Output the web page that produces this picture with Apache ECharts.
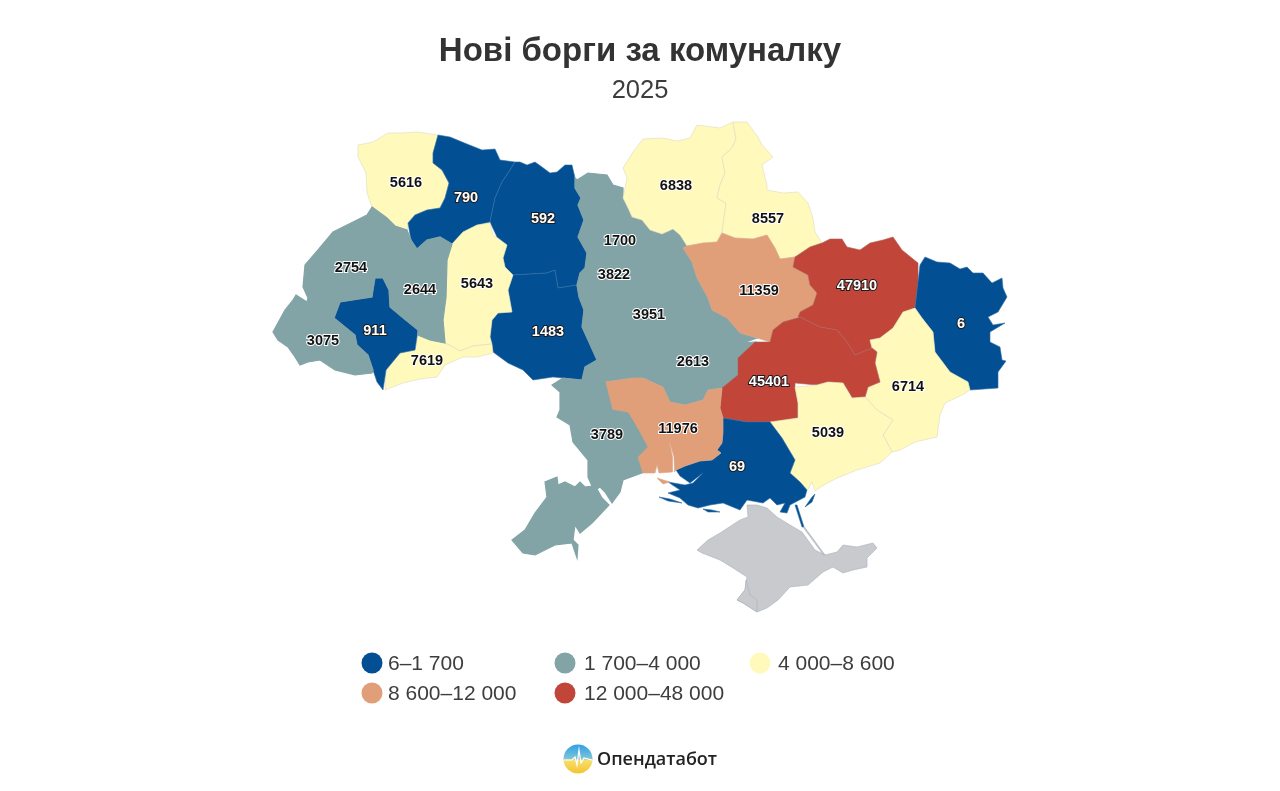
<!DOCTYPE html>
<html>
<head>
<meta charset="utf-8">
<title>Нові борги за комуналку</title>
<script src="https://cdn.jsdelivr.net/npm/echarts@6/dist/echarts.min.js"></script>
<style>
html,body{margin:0;padding:0;background:#fff;}
#main{width:1280px;height:791px;}
</style>
</head>
<body>
<div id="main"></div>
<script>
// дані
var regionNames = ['Волинська','Рівненська','Житомирська','Вінницька','Хмельницька','Чернівецька','Івано-Франківська','Закарпатська','Львівська','Тернопільська','Київська','Київ','Черкаська','Кіровоградська','Чернігівська','Сумська','Полтавська','Харківська','Луганська','Донецька','Дніпропетровська','Запорізька','Херсонська','Миколаївська','Одеська'];
var regionValues = [5616,790,592,1483,5643,7619,911,3075,2754,2644,1700,3822,3951,2613,6838,8557,11359,47910,6,6714,45401,5039,69,11976,3789];
var pieceLabels = ['6–1 700','1 700–4 000','4 000–8 600','8 600–12 000','12 000–48 000'];
var pieceBreaks = [6,1700,4000,8600,12000,48000];
var pieceColors = ['#024f93','#82a4a7','#fff9bb','#e09f78','#c2453a'];
var titleText = 'Нові борги за комуналку';
var yearText = '2025';
var brandText = 'Опендатабот';

// тонка лінія межі для кожного кольору
var pieceEdges = ['#2f6ea3','#82a4a7','#dddcc0','#dba68a','#a9635c'];
var pieceEdgeWidths = [0.6,1.2,0.6,0.6,0.6];

// контури областей, обведені по картинці (географія, не значення)
var regionShapes = {
	'Волинська':['358,145 373,142 388,133 403,133 417,132 438,135 433,153 433,163 442,170 449,183 445,198 440,208 427,210 415,215 408,223 407,230 395,226 387,218 372,207 367,193 366,173 358,157'],
	'Рівненська':['438,135 450,137 467,144 482,150 495,149 500,160 515,162 510,170 502,182 495,198 490,222 477,225 463,232 452,244 440,237 427,240 417,249 411,240 408,223 415,215 427,210 440,208 445,198 449,183 442,170 433,163 433,153'],
	'Житомирська':['515,162 520,162 527,165 535,162 542,167 550,173 557,172 565,165 572,165 575,178 575,188 581,198 578,205 584,220 578,237 587,253 585,268 580,273 577,285 558,288 555,270 547,273 513,275 505,267 503,258 507,245 497,237 490,222 495,198 502,182 510,170'],
	'Вінницька':['513,275 547,273 555,270 558,288 577,285 579,297 584,310 582,327 588,340 597,360 585,367 582,380 563,378 553,377 533,380 523,370 508,363 493,352 490,337 492,320 498,313 512,312 508,290'],
	'Хмельницька':['490,223 493,235 507,245 503,258 505,267 513,275 508,290 512,312 498,313 492,320 490,337 492,344 473,346 460,351 453,347 445,343 443,320 446,297 447,260 452,244 463,232 477,225'],
	'Чернівецька':['418,335 430,340 445,343 453,347 460,351 473,346 492,344 493,353 477,357 463,357 445,365 437,377 420,379 403,383 385,390 386,370 400,353 415,350'],
	'Івано-Франківська':['375,278 383,278 389,290 390,307 402,317 418,330 415,350 400,353 386,370 383,390 377,382 373,370 368,355 357,345 355,335 334,318 340,302 372,297 373,290'],
	'Закарпатська':['296,295 307,302 340,302 334,318 355,335 357,345 368,355 373,370 372,373 355,375 335,370 320,360 308,362 300,365 295,357 288,347 278,340 273,332 285,310 293,300'],
	'Львівська':['372,207 387,218 395,226 407,230 411,240 405,260 390,272 383,278 375,278 373,290 372,297 340,302 307,302 308,298 303,287 305,265 318,250 333,232 353,222 367,215'],
	'Тернопільська':['411,240 417,249 427,240 440,237 452,244 447,260 446,297 443,320 445,343 430,340 418,335 418,330 402,317 390,307 389,290 383,278 390,272 405,260'],
	'Київська':['577,180 588,173 607,175 613,185 623,188 623,198 628,208 632,217 642,220 650,230 662,234 673,229 680,235 687,246 683,248 692,262 697,278 650,280 620,295 584,310 579,297 577,285 580,273 585,268 587,253 578,237 584,220 578,205 581,198 575,188 575,178'],
	'Київ':['606,266 622,266 624,282 606,284'],
	'Черкаська':['584,310 620,295 650,280 697,278 708,298 712,310 727,318 690,335 650,345 597,360 588,340 582,327'],
	'Кіровоградська':['597,360 650,345 690,335 727,318 740,333 757,338 743,343 755,342 738,358 738,375 722,388 708,390 703,400 685,405 670,402 663,387 643,378 633,378 605,382 582,380 585,367'],
	'Чернігівська':['643,139 663,138 677,141 690,138 697,125 720,128 733,122 736,139 732,148 722,157 725,173 720,185 717,198 726,203 722,232 717,242 703,243 687,246 680,235 673,229 662,234 650,230 642,220 632,217 628,208 623,198 627,178 623,168 633,152'],
	'Сумська':['733,122 747,122 758,137 762,145 773,157 762,165 767,185 767,190 783,193 798,192 808,203 813,218 815,232 822,243 810,247 795,257 780,259 775,248 767,235 753,239 735,238 727,235 722,233 726,203 717,198 720,185 725,173 722,157 732,148 736,139'],
	'Полтавська':['683,248 687,246 703,243 717,242 722,233 735,238 753,239 767,235 775,248 780,259 795,257 793,267 808,275 810,285 817,293 813,305 800,312 798,317 783,322 773,330 770,342 757,338 740,333 727,318 712,310 708,298 697,278 692,262'],
	'Харківська':['795,257 810,247 822,243 830,239 842,239 847,247 860,250 870,243 883,240 893,237 902,250 918,263 918,282 915,308 903,312 893,328 880,338 870,340 872,348 855,355 847,342 837,330 820,327 800,317 798,317 800,312 813,305 817,293 810,285 808,275 793,267'],
	'Луганська':['925,257 937,262 950,263 960,269 967,267 973,273 983,273 992,283 1002,278 1003,288 1007,297 998,312 988,317 993,325 1005,323 990,332 990,342 1000,347 1002,360 1006,361 998,372 998,388 970,390 968,382 950,372 935,352 933,332 922,318 915,308 918,282 920,265'],
	'Донецька':['903,312 915,308 922,318 933,332 935,352 950,372 968,382 970,390 962,395 945,403 940,415 937,437 915,442 900,450 892,452 883,435 893,420 877,410 865,397 868,387 880,382 875,363 877,352 872,348 870,340 880,338 893,328'],
	'Дніпропетровська':['770,342 773,330 783,322 800,317 820,327 837,330 847,342 855,355 872,348 877,352 875,363 880,382 868,387 865,397 852,398 843,383 828,382 817,385 795,383 795,387 798,403 798,418 770,422 747,422 723,418 720,408 722,388 738,375 738,358 755,342'],
	'Запорізька':['795,387 817,385 828,382 843,383 852,398 865,397 877,410 893,420 883,435 892,452 880,463 857,470 837,478 822,486 815,491 812,482 809,488 807,490 800,482 790,473 795,460 782,438 770,422 798,418 798,403'],
	'Херсонська':['676,470 680,476 690,483 703,473 693,483 685,485 668,482 680,490 668,493 680,498 688,505 698,508 710,505 723,503 740,510 747,500 763,503 770,498 777,505 785,503 780,512 787,513 790,505 805,497 807,490 800,482 790,473 795,460 782,438 770,422 747,422 723,418 723,432 722,443 717,450 721,453 712,460 700,461 685,466','659,497 670,499 682,503 668,501','703,509 712,510 720,512 708,512','805,507 812,497 815,494 812,502','795,505 797,505 804,527 802,527'],
	'Миколаївська':['605,382 633,378 643,378 663,387 670,402 685,405 703,400 708,390 722,388 720,408 723,418 723,432 722,443 717,450 721,453 712,460 700,461 685,466 676,470 674.5,472 674,457 669.5,442 672.5,457 672.5,472 659,473 657,465 655,473 642,473 637,457 647,447 638,430 628,413 612,410','657,478 670,482 663,484'],
	'Одеська':['552,385 563,378 582,380 605,382 612,410 628,413 638,430 647,447 637,457 642,473 623,480 620,492 612,503 605,492 600,487 597,489 602,498 609,505 592,523 580,533 575,525 573,540 578,545 577,558 572,543 555,545 535,555 523,553 512,540 525,530 535,513 547,497 545,482 557,477 558,485 565,482 575,487 580,482 585,487 592,486 588,477 588,460 573,442 570,425 557,417 560,410 560,392'],
	'Крим':['697,550 708,540 720,533 740,520 748,517 747,505 757,505 767,508 777,517 790,525 802,532 815,550 825,555 837,552 843,545 857,547 873,543 877,548 867,558 867,567 853,570 843,573 833,567 823,572 808,585 790,587 778,600 767,608 757,612 743,603 737,600 745,590 747,577 733,568 720,560 702,553','803,527 804.5,527 825,555 823.5,555'],
	'Севастополь':['737,600 745,590 746,580 750,595 757,600 757,612 743,603']
};
// де стоять підписи
var labelPoints = {
	'Волинська':[406,183],'Рівненська':[466,198],'Житомирська':[543,219],'Вінницька':[548,332],'Хмельницька':[477,284],
	'Чернівецька':[427,361],'Івано-Франківська':[375,331],'Закарпатська':[323,341],'Львівська':[351,268],'Тернопільська':[420,290],
	'Київська':[620,241],'Київ':[614,275],'Черкаська':[649,315],'Кіровоградська':[693,362],'Чернігівська':[676,186],
	'Сумська':[768,219],'Полтавська':[759,291],'Харківська':[857,286],'Луганська':[961,324],'Донецька':[908,387],
	'Дніпропетровська':[769,382],'Запорізька':[828,433],'Херсонська':[737,467],'Миколаївська':[678,429],'Одеська':[607,435]
};

function buildGeoJson(){
	var features = [];
	for(var name in regionShapes){
		var polys = regionShapes[name].map(function(s){
			var ring = s.split(' ').map(function(p){
				var xy = p.split(',');
				return [Number(xy[0]),Number(xy[1])];
			});
			ring.push(ring[0]);
			return [ring];
		});
		var props = {name:name};
		if(labelPoints[name]) props.cp = labelPoints[name];
		features.push({type:'Feature',properties:props,geometry:{type:'MultiPolygon',coordinates:polys}});
	}
	return {type:'FeatureCollection',features:features};
}

function pieceIndex(v){
	for(var i=pieceColors.length-1;i>=0;i--){
		if(v>=pieceBreaks[i]) return i;
	}
	return 0;
}

function labelStyle(v){
	var idx = pieceIndex(v);
	var dark = idx==0 || idx==4;
	return {
		show:true,
		formatter:'{c}',
		color:dark?'#fff':'#111',
		textBorderColor:dark?'#1c1c1c':'#fff',
		textBorderWidth:2,
		fontFamily:'Liberation Sans',
		fontWeight:'bold',
		fontSize:14.5
	};
}

echarts.registerMap('ua',buildGeoJson());

var chart = echarts.init(document.getElementById('main'),null,{renderer:'canvas'});

var seriesData = regionNames.map(function(n,i){
	var idx = pieceIndex(regionValues[i]);
	return {name:n,value:regionValues[i],label:labelStyle(regionValues[i]),itemStyle:{borderColor:pieceEdges[idx],borderWidth:pieceEdgeWidths[idx]}};
});

var legendGraphics = [];
var legendX = [372,565,760,372,565];
var legendY = [663,663,663,693,693];
var legendTextX = [388,584,778,388,584];
pieceLabels.forEach(function(t,i){
	legendGraphics.push({type:'circle',shape:{cx:legendX[i],cy:legendY[i],r:10.5},style:{fill:pieceColors[i]},silent:true});
	legendGraphics.push({type:'text',x:legendTextX[i],y:legendY[i]+1,style:{text:t,fill:'#3d3d3d',font:'21px "Liberation Sans"',textVerticalAlign:'middle',textAlign:'left'},silent:true});
});

var option = {
	animation:false,
	backgroundColor:'#fff',
	title:[
		{text:titleText,left:'center',top:30,textStyle:{fontFamily:'Liberation Sans',fontWeight:'bold',fontSize:33,color:'#333'}},
		{text:yearText,left:'center',top:73,textStyle:{fontFamily:'Liberation Sans',fontWeight:'normal',fontSize:25.5,color:'#3d3d3d'}}
	],
	visualMap:{
		type:'piecewise',
		show:false,
		seriesIndex:0,
		pieces:pieceColors.map(function(c,i){
			return {gte:pieceBreaks[i],lt:i==4?pieceBreaks[i+1]+1:pieceBreaks[i+1],color:c};
		})
	},
	series:[{
		type:'map',
		map:'ua',
		silent:true,
		selectedMode:false,
		roam:false,
		projection:{project:function(p){return p;},unproject:function(p){return p;}},
		boundingCoords:[[0,0],[1280,791]],
		left:0,top:0,width:1280,height:791,
		itemStyle:{areaColor:'#c9cacd',borderColor:'#a6b1bf',borderWidth:0.6},
		emphasis:{disabled:true},
		label:{show:false},
		data:seriesData
	}],
	graphic:{elements:legendGraphics.concat([
		{type:'circle',shape:{cx:578,cy:759,r:14.5},silent:true,style:{
			fill:new echarts.graphic.LinearGradient(0,0,0,1,[{offset:0,color:'#2f9fe6'},{offset:0.48,color:'#7cc4d8'},{offset:0.55,color:'#f7de6a'},{offset:1,color:'#f4c430'}])
		}},
		{type:'polyline',shape:{points:[[564,760],[572,760],[575,757],[577,765],[579,750],[581,763],[584,758],[592,760]]},silent:true,style:{stroke:'#fff',lineWidth:1.2,fill:null}},
		{type:'text',x:597,y:760,silent:true,style:{text:brandText,fill:'#222',font:'600 18px "Open Sans"',textVerticalAlign:'middle',textAlign:'left'}}
	])}
};
chart.setOption(option);
</script>
</body>
</html>
